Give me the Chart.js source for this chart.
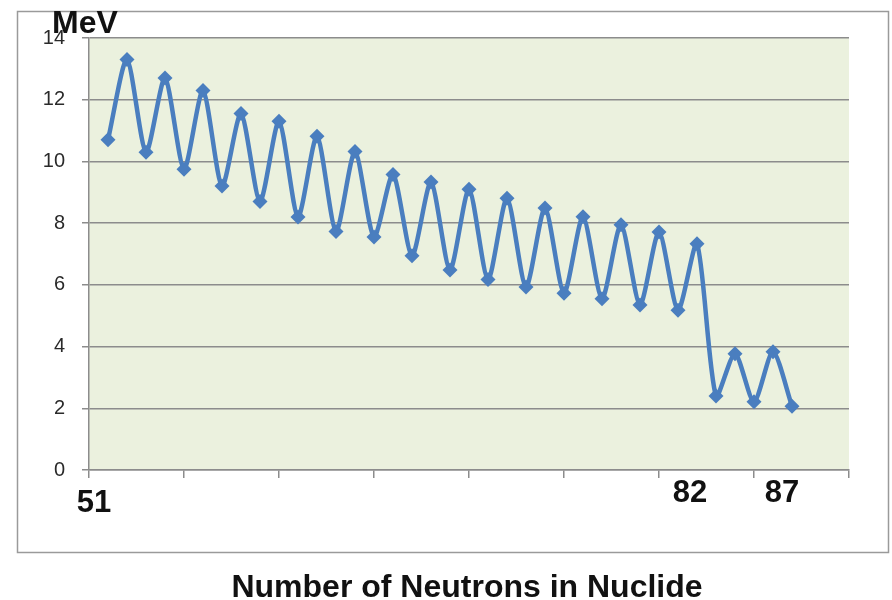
<!DOCTYPE html>
<html>
<head>
<meta charset="utf-8">
<script src="https://cdn.jsdelivr.net/npm/chart.js@4/dist/chart.umd.min.js"></script>
<style>
  html, body { margin: 0; padding: 0; background: #fff; }
  #wrap { width: 892px; height: 600px; }
</style>
</head>
<body>
<div id="wrap"><canvas id="c" width="892" height="600"></canvas></div>
<script>
// Neutron number (N) and separation energy (MeV)
const neutrons = [51,52,53,54,55,56,57,58,59,60,61,62,63,64,65,66,67,68,69,70,71,72,73,74,75,76,77,78,79,80,81,82,83,84,85,86,87];
const energies = [10.7,13.3,10.3,12.7,9.75,12.3,9.2,11.55,8.7,11.3,8.2,10.82,7.73,10.32,7.55,9.58,6.94,9.33,6.48,9.1,6.17,8.81,5.93,8.49,5.73,8.21,5.55,7.95,5.35,7.71,5.18,7.33,2.4,3.77,2.21,3.83,2.07];
const yTicks = [0,2,4,6,8,10,12,14];
const markerLabels = ['51','82','87'];
const yUnit = 'MeV';
const xTitle = 'Number of Neutrons in Nuclide';

const FONT = '"Liberation Sans", Arial, sans-serif';

const decor = {
  id: 'decor',
  beforeDraw(chart) {
    const {ctx, chartArea: a} = chart;
    ctx.save();
    ctx.fillStyle = '#ffffff';
    ctx.fillRect(0, 0, chart.width, chart.height);
    // outer frame
    ctx.strokeStyle = '#9a9a9a';
    ctx.lineWidth = 1.5;
    ctx.strokeRect(17.5, 11.5, 871, 541);
    // plot background
    ctx.fillStyle = '#ebf1de';
    ctx.fillRect(a.left, a.top, a.right - a.left, a.bottom - a.top);
    ctx.restore();
  },
  afterDraw(chart) {
    const {ctx} = chart;
    ctx.save();
    ctx.fillStyle = '#111';
    ctx.textAlign = 'center';
    ctx.textBaseline = 'alphabetic';
    ctx.font = 'bold 32px ' + FONT;
    ctx.fillText(yUnit, 85, 33);
    ctx.font = 'bold 31px ' + FONT;
    const pos = [[94, 512], [690, 502], [782, 502]];
    markerLabels.forEach((t, i) => ctx.fillText(t, pos[i][0], pos[i][1]));
    ctx.font = 'bold 32px ' + FONT;
    ctx.fillText(xTitle, 467, 597);
    ctx.restore();
  }
};

new Chart(document.getElementById('c'), {
  type: 'line',
  data: {
    datasets: [{
      data: neutrons.map((n, i) => ({x: n, y: energies[i]})),
      borderColor: '#4a7ebf',
      backgroundColor: '#4a7ebf',
      borderWidth: 4.5,
      tension: 0.25,
      pointStyle: 'rectRot',
      pointRadius: 7.5,
      pointBorderWidth: 0,
      fill: false
    }]
  },
  options: {
    responsive: false,
    animation: false,
    events: [],
    layout: { padding: { left: 17, right: 43, top: 38, bottom: 0 } },
    plugins: { legend: { display: false }, tooltip: { enabled: false } },
    scales: {
      x: {
        type: 'linear',
        min: 50, max: 90,
        afterBuildTicks: s => { s.ticks = []; for (let v = 50; v <= 90; v += 5) s.ticks.push({value: v}); },
        ticks: { display: false },
        grid: { drawOnChartArea: false, drawTicks: true, tickLength: 8, color: '#8c8c8c', lineWidth: 1.5 },
        border: { color: '#8c8c8c', width: 1.5 },
        afterFit: s => { s.height = 130; }
      },
      y: {
        min: 0, max: 14,
        afterBuildTicks: s => { s.ticks = yTicks.map(v => ({value: v})); },
        ticks: {
          color: '#2a2a2a', padding: 17,
          font: { family: FONT, size: 20 }
        },
        grid: { color: '#8c8c8c', lineWidth: 1.5, tickLength: 7 },
        border: { color: '#8c8c8c', width: 1.5 },
        afterFit: s => { s.width = 72; }
      }
    }
  },
  plugins: [decor]
});
</script>
</body>
</html>
